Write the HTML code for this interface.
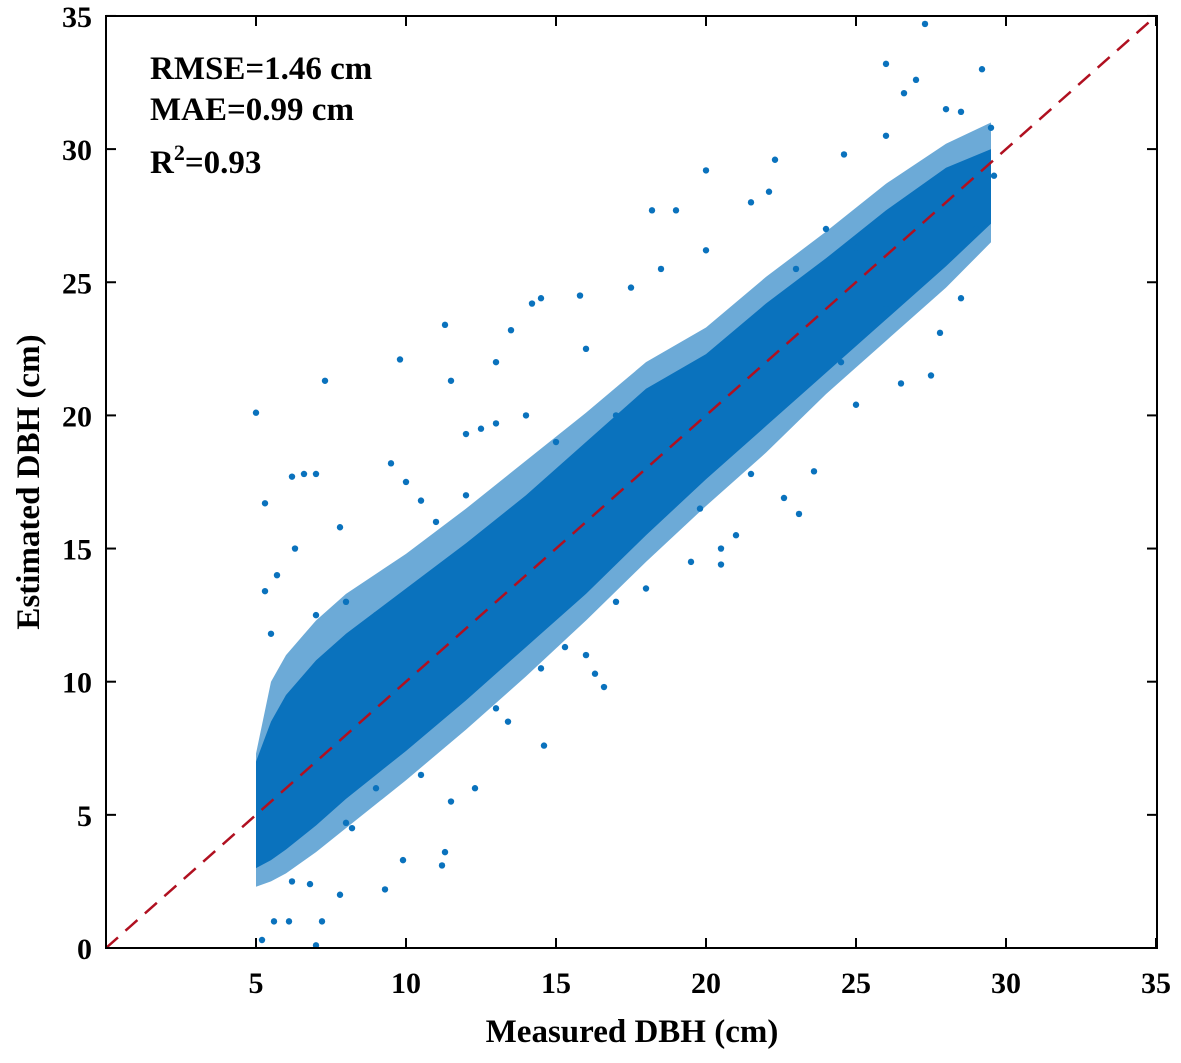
<!DOCTYPE html>
<html><head><meta charset="utf-8"><style>
html,body{margin:0;padding:0;background:#fff;}
svg text{font-family:"Liberation Serif",serif;font-weight:bold;fill:#000;}
</style></head><body>
<svg id="chart" width="1181" height="1058" viewBox="0 0 1181 1058" xmlns="http://www.w3.org/2000/svg">
<g id="bands"></g>
<g id="points"></g>
<line id="oneToOne" stroke="#b01020" stroke-width="2.5" stroke-dasharray="16,10"/>
<rect x="106" y="16" width="1051" height="932" fill="none" stroke="#000" stroke-width="2"/>
<g id="xticks"></g>
<g id="yticks"></g>
<text x="632" y="1042" font-size="33" text-anchor="middle">Measured DBH (cm)</text>
<text transform="translate(39,482) rotate(-90)" font-size="33" text-anchor="middle">Estimated DBH (cm)</text>
<text x="150" y="79" font-size="33">RMSE=1.46 cm</text>
<text x="150" y="120" font-size="33">MAE=0.99 cm</text>
<text x="150" y="173" font-size="33">R<tspan dy="-13" font-size="22">2</tspan><tspan dy="13">=0.93</tspan></text>
</svg>
<script>
const xTicks=[5,10,15,20,25,30,35];
const yTicks=[0,5,10,15,20,25,30,35];
const bandX=[5,5.5,6,7,8,10,12,14,16,18,20,22,24,26,28,29.5];
const coreLo=[3,3.3,3.7,4.6,5.6,7.4,9.3,11.3,13.3,15.5,17.6,19.6,21.6,23.6,25.6,27.2];
const coreHi=[7,8.5,9.5,10.8,11.8,13.5,15.2,17,19,21,22.3,24.2,25.9,27.7,29.3,30];
const outerLo=[2.3,2.5,2.8,3.6,4.5,6.3,8.2,10.2,12.3,14.5,16.6,18.6,20.8,22.8,24.8,26.5];
const outerHi=[7.3,10,11,12.3,13.3,14.8,16.5,18.3,20.1,22,23.3,25.2,26.9,28.7,30.2,31];
const ptX=[5,5.3,6.2,6.6,7,7.3,9.8,11.3,11.5,12,9.5,10,10.5,5.3,5.7,6.3,7.8,5.5,14.2,14.5,15.8,13.5,12.5,13,18.2,19,20,21.5,22.3,22.1,24.6,26,26.6,27.3,29.2,28,28.5,25,26.5,27.5,28.5,27.8,25,23.1,20.5,20.5,19.8,21.5,23.6,22.6,16.6,16.3,16,14.6,15.3,13.4,12.3,11.2,11.3,9.9,9.3,7.8,7.2,7,5.2,6.2,6.8,6.1,5.6,8.2,11.5,17,18,19.5,21,20,17.5,18.5,9,8,7,11,12,24,26,29.5,29.6,29,23,26,24.5,17,15,14,13,16,27,18.8,10.5,9,8,13,14.5];
const ptY=[20.1,16.7,17.7,17.8,17.8,21.3,22.1,23.4,21.3,19.3,18.2,17.5,16.8,13.4,14,15,15.8,11.8,24.2,24.4,24.5,23.2,19.5,19.7,27.7,27.7,29.2,28,29.6,28.4,29.8,33.2,32.1,34.7,33,31.5,31.4,26.3,21.2,21.5,24.4,23.1,20.4,16.3,14.4,15,16.5,17.8,17.9,16.9,9.8,10.3,11,7.6,11.3,8.5,6,3.1,3.6,3.3,2.2,2,1,0.1,0.3,2.5,2.4,1,1,4.5,5.5,13,13.5,14.5,15.5,26.2,24.8,25.5,12.5,13,12.5,16,17,27,30.5,30.8,29,27,25.5,24,22,20,19,20,22,22.5,32.6,19.8,6.5,6,4.7,9,10.5];
const NS='http://www.w3.org/2000/svg';
const X0=106,XS=30,Y0=948,YS=26.63;
const sx=v=>X0+v*XS, sy=v=>Y0-v*YS;
function mk(t,a,p){const e=document.createElementNS(NS,t);for(const k in a)e.setAttribute(k,a[k]);p.appendChild(e);return e;}
const bands=document.getElementById('bands');
function band(lo,hi,op,name){
  let d='M'+sx(bandX[0])+','+sy(lo[0]);
  for(let i=0;i<bandX.length;i++)d+='L'+sx(bandX[i])+','+sy(hi[i]);
  for(let i=bandX.length-1;i>=0;i--)d+='L'+sx(bandX[i])+','+sy(lo[i]);
  const p=mk('path',{d:d+'Z',fill:'#0a72bd','fill-opacity':op},bands);
  
  
}
band(outerLo,outerHi,0.6,'outer-point-band');
band(coreLo,coreHi,1,'core-point-band');
const pts=document.getElementById('points');
for(let i=0;i<ptX.length;i++){
  const c=mk('circle',{cx:sx(ptX[i]),cy:sy(ptY[i]),r:3.2,fill:'#0a72bd'},pts);
  
  
}
const l=document.getElementById('oneToOne');
l.setAttribute('x1',sx(0));l.setAttribute('y1',sy(0));l.setAttribute('x2',sx(35));l.setAttribute('y2',sy(35));
const xg=document.getElementById('xticks');
xTicks.forEach(v=>{
  mk('line',{x1:sx(v),x2:sx(v),y1:Y0,y2:Y0-10,stroke:'#000','stroke-width':2},xg);
  mk('line',{x1:sx(v),x2:sx(v),y1:16,y2:26,stroke:'#000','stroke-width':2},xg);
  const t=mk('text',{x:sx(v),y:993,'font-size':30,'text-anchor':'middle'},xg);
  t.textContent=v;
  
  
});
const yg=document.getElementById('yticks');
yTicks.forEach(v=>{
  mk('line',{x1:X0,x2:X0+10,y1:sy(v),y2:sy(v),stroke:'#000','stroke-width':2},yg);
  mk('line',{x1:1157,x2:1147,y1:sy(v),y2:sy(v),stroke:'#000','stroke-width':2},yg);
  const t=mk('text',{x:92,y:sy(v)+11,'font-size':30,'text-anchor':'end'},yg);
  t.textContent=v;
  
  
});
</script>
</body></html>
